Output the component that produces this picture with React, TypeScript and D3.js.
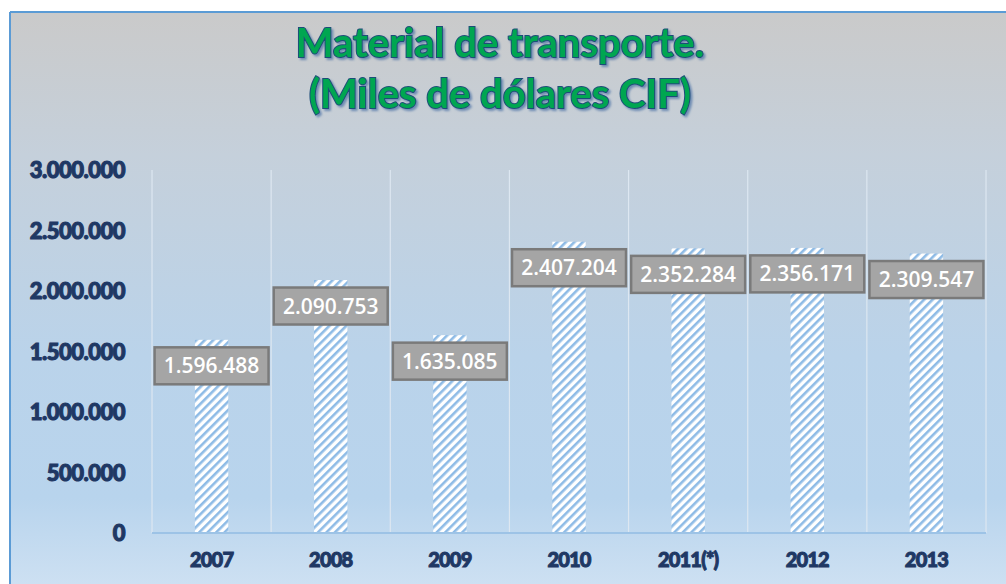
import React, { useEffect, useRef } from 'react';
import * as d3 from 'd3';

const years = ['2007', '2008', '2009', '2010', '2011(*)', '2012', '2013'];
const values = [1596488, 2090753, 1635085, 2407204, 2352284, 2356171, 2309547];
const yTicks = [0, 500000, 1000000, 1500000, 2000000, 2500000, 3000000];
const titleLines = ['Material de transporte.', '(Miles de dólares CIF)'];

const fmt = (v: number) => d3.format(',')(v).replace(/,/g, '.');

const App = () => {
  const ref = useRef<SVGSVGElement>(null);

  useEffect(() => {
    const width = 1006;
    const height = 584;
    const plot = { left: 152, right: 986, top: 170, bottom: 533 };

    const svg = d3.select(ref.current);
    svg.selectAll('*').remove();

    const defs = svg.append('defs');

    // background gradient: gray at top, light blue lower down
    const grad = defs.append('linearGradient')
      .attr('id', 'bg')
      .attr('x1', 0).attr('y1', 0).attr('x2', 0).attr('y2', 1);
    grad.append('stop').attr('offset', '0%').attr('stop-color', '#cacaca');
    grad.append('stop').attr('offset', '25%').attr('stop-color', '#c5d0db');
    grad.append('stop').attr('offset', '60%').attr('stop-color', '#bad3ea');
    grad.append('stop').attr('offset', '85%').attr('stop-color', '#b8d4ed');
    grad.append('stop').attr('offset', '100%').attr('stop-color', '#cde0f2');

    // striped pattern for bars
    const pat = defs.append('pattern')
      .attr('id', 'stripes')
      .attr('patternUnits', 'userSpaceOnUse')
      .attr('width', 6)
      .attr('height', 6)
      .attr('patternTransform', 'rotate(45)');
    pat.append('rect').attr('width', 6).attr('height', 6).attr('fill', '#ffffff');
    pat.append('rect').attr('width', 2.6).attr('height', 6).attr('fill', '#8ebbe6');

    // title shadow filter
    const f = defs.append('filter').attr('id', 'shadow')
      .attr('x', '-10%').attr('y', '-20%').attr('width', '120%').attr('height', '150%');
    f.append('feDropShadow')
      .attr('dx', 2).attr('dy', 2).attr('stdDeviation', 1.2)
      .attr('flood-color', '#4a6fa5').attr('flood-opacity', 0.7);

    // chart area background
    svg.append('rect')
      .attr('x', 0).attr('y', 0).attr('width', width).attr('height', height)
      .attr('fill', '#ffffff');
    svg.append('rect')
      .attr('x', 10).attr('y', 12).attr('width', width - 10).attr('height', height - 12)
      .attr('fill', 'url(#bg)');
    svg.append('line')
      .attr('x1', 10).attr('x2', 10).attr('y1', 12).attr('y2', height)
      .attr('stroke', '#5b9bd5').attr('stroke-width', 2);
    svg.append('line')
      .attr('x1', 10).attr('x2', width).attr('y1', 12).attr('y2', 12)
      .attr('stroke', '#5b9bd5').attr('stroke-width', 2);

    // title
    const title = svg.append('g').attr('filter', 'url(#shadow)');
    titleLines.forEach((t, i) => {
      title.append('text')
        .attr('x', 500)
        .attr('y', 57 + i * 51)
        .attr('text-anchor', 'middle')
        .attr('font-family', 'Lato, "Open Sans", sans-serif')
        .attr('font-weight', 700)
        .attr('font-size', 40)
        .attr('fill', '#00a651')
        .attr('stroke', '#1f4e79')
        .attr('stroke-width', 2)
        .attr('paint-order', 'stroke')
        .text(t);
    });

    const x = d3.scaleBand()
      .domain(years)
      .range([plot.left, plot.right])
      .paddingInner(0)
      .paddingOuter(0);

    const y = d3.scaleLinear()
      .domain([0, 3000000])
      .range([plot.bottom, plot.top]);

    // vertical gridlines at category boundaries
    const bounds = years.map(d => x(d) as number).concat([plot.right]);
    svg.append('g')
      .selectAll('line')
      .data(bounds)
      .enter().append('line')
      .attr('x1', d => d).attr('x2', d => d)
      .attr('y1', plot.top).attr('y2', plot.bottom)
      .attr('stroke', '#dde7f1')
      .attr('stroke-width', 1.2);

    // bars
    const barW = x.bandwidth() * 0.28;
    svg.append('g')
      .selectAll('rect')
      .data(values)
      .enter().append('rect')
      .attr('x', (d, i) => (x(years[i]) as number) + x.bandwidth() / 2 - barW / 2)
      .attr('y', d => y(d))
      .attr('width', barW)
      .attr('height', d => plot.bottom - y(d))
      .attr('fill', 'url(#stripes)');

    // baseline
    svg.append('line')
      .attr('x1', plot.left).attr('x2', plot.right)
      .attr('y1', plot.bottom).attr('y2', plot.bottom)
      .attr('stroke', '#9dc3e6').attr('stroke-width', 2);

    // y axis labels
    const yAxis = svg.append('g')
      .attr('transform', `translate(${plot.left - 27},0)`)
      .call(d3.axisLeft(y).tickValues(yTicks).tickSize(0).tickPadding(0).tickFormat(d => fmt(+d)));
    yAxis.select('.domain').remove();
    yAxis.selectAll('text')
      .attr('font-family', 'Lato, sans-serif')
      .attr('font-weight', 900)
      .attr('font-size', 22)
      .attr('fill', '#1f3864')
      .attr('stroke', '#1f3864')
      .attr('stroke-width', 1.1)
      .attr('letter-spacing', -0.5)
      .attr('dy', '0.35em');

    // x axis labels
    const xAxis = svg.append('g')
      .attr('transform', `translate(0,${plot.bottom})`)
      .call(d3.axisBottom(x).tickSize(0).tickPadding(0));
    xAxis.select('.domain').remove();
    xAxis.selectAll('text')
      .attr('font-family', 'Lato, sans-serif')
      .attr('font-weight', 900)
      .attr('font-size', 20)
      .attr('fill', '#1f3864')
      .attr('stroke', '#1f3864')
      .attr('stroke-width', 1)
      .attr('letter-spacing', -0.8)
      .attr('y', 20);

    // data labels
    const boxW = 114;
    const boxH = 37;
    const labels = svg.append('g')
      .selectAll('g')
      .data(values)
      .enter().append('g')
      .attr('transform', (d, i) => {
        const cx = (x(years[i]) as number) + x.bandwidth() / 2;
        return `translate(${cx},${y(d) + 26})`;
      });
    labels.append('rect')
      .attr('x', -boxW / 2)
      .attr('y', -boxH / 2)
      .attr('width', boxW)
      .attr('height', boxH)
      .attr('fill', '#a5a5a5')
      .attr('stroke', '#7a7a7a')
      .attr('stroke-width', 2.5);
    labels.append('text')
      .attr('text-anchor', 'middle')
      .attr('dy', '0.36em')
      .attr('font-family', '"Open Sans", sans-serif')
      .attr('font-weight', 600)
      .attr('font-size', 21)
      .attr('fill', '#ffffff')
      .text(d => fmt(d));
  }, []);

  return (
    <svg
      ref={ref}
      width={1006}
      height={584}
      style={{ position: 'fixed', left: 0, top: 0, display: 'block' }}
    />
  );
};

export default App;
